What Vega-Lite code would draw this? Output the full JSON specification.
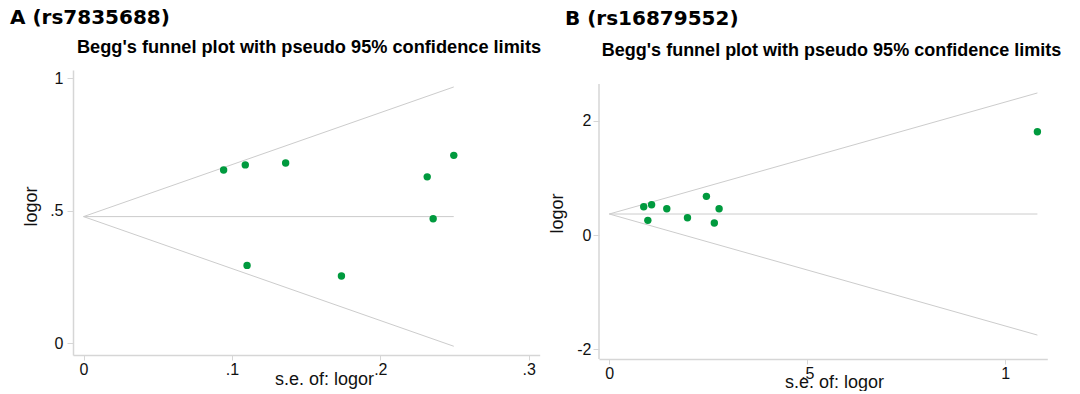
{
  "$schema": "https://vega.github.io/schema/vega-lite/v6.json",
  "padding": {"left": 10, "top": 8, "right": 0, "bottom": 0},
  "background": "white",
  "spacing": 7,
  "config": {
    "view": {"stroke": null},
    "font": "Liberation Sans",
    "axis": {
      "grid": false,
      "domainColor": "#d6d6d6",
      "domainWidth": 1.5,
      "tickColor": "#d6d6d6",
      "tickWidth": 1,
      "labelFont": "Liberation Sans",
      "labelFontSize": 16,
      "labelColor": "#111111",
      "titleFont": "Liberation Sans",
      "titleFontSize": 18,
      "titleFontWeight": "normal",
      "titleColor": "#111111",
      "labelFlush": false,
      "labelOverlap": false,
      "labelExpr": "datum.value > 0 && datum.value < 1 ? substring('' + datum.value, 1) : '' + datum.value"
    },
    "title": {"font": "DejaVu Sans", "fontWeight": "bold", "fontSize": 20, "color": "#000000", "anchor": "start", "frame": "bounds", "baseline": "alphabetic"}
  },
  "datasets": {
    "studiesA": [
      {"se": 0.0944, "logor": 0.654},
      {"se": 0.1090, "logor": 0.673},
      {"se": 0.1362, "logor": 0.680},
      {"se": 0.2316, "logor": 0.628},
      {"se": 0.2495, "logor": 0.709},
      {"se": 0.2356, "logor": 0.470},
      {"se": 0.1102, "logor": 0.294},
      {"se": 0.1738, "logor": 0.254}
    ],
    "funnelA": [
      {"limit": "upper", "se": 0, "logor": 0.478},
      {"limit": "upper", "se": 0.2495, "logor": 0.967},
      {"limit": "lower", "se": 0, "logor": 0.478},
      {"limit": "lower", "se": 0.2495, "logor": -0.011},
      {"limit": "pooled", "se": 0, "logor": 0.478},
      {"limit": "pooled", "se": 0.2495, "logor": 0.478}
    ],
    "studiesB": [
      {"se": 0.0869, "logor": 0.496},
      {"se": 0.1068, "logor": 0.531},
      {"se": 0.0973, "logor": 0.257},
      {"se": 0.1452, "logor": 0.461},
      {"se": 0.1974, "logor": 0.303},
      {"se": 0.2452, "logor": 0.677},
      {"se": 0.2652, "logor": 0.210},
      {"se": 0.2773, "logor": 0.461},
      {"se": 1.081, "logor": 1.809}
    ],
    "funnelB": [
      {"limit": "upper", "se": 0, "logor": 0.368},
      {"limit": "upper", "se": 1.081, "logor": 2.487},
      {"limit": "lower", "se": 0, "logor": 0.368},
      {"limit": "lower", "se": 1.081, "logor": -1.751},
      {"limit": "pooled", "se": 0, "logor": 0.368},
      {"limit": "pooled", "se": 1.081, "logor": 0.368}
    ],
    "axisLineB": [
      {"se": -0.026, "lo": -2.17, "hi": 2.644}
    ]
  },
  "hconcat": [
    {
      "title": {"text": "A (rs7835688)", "dx": -12, "offset": 9},
      "width": 466.7,
      "height": 285,
      "resolve": {"axis": {"x": "independent"}},
      "layer": [
        {
          "data": {"name": "funnelA"},
          "mark": {"type": "line", "color": "#cccccc", "strokeWidth": 1},
          "encoding": {
            "x": {
              "field": "se", "type": "quantitative",
              "axis": {"orient": "top", "title": "Begg's funnel plot with pseudo 95% confidence limits", "domain": false, "ticks": false, "labels": false, "titleFontWeight": "bold", "titleColor": "#000000", "titleFontSize": 18.2, "titleX": 235.5, "titleY": -18, "titleBaseline": "alphabetic"}
            },
            "y": {"field": "logor", "type": "quantitative"},
            "detail": {"field": "limit"}
          }
        },
        {
          "data": {"name": "studiesA"},
          "mark": {"type": "point", "filled": true, "opacity": 1, "size": 55, "color": "#009a3e"},
          "encoding": {
            "x": {
              "field": "se", "type": "quantitative",
              "scale": {"domain": [-0.0071, 0.3074], "nice": false, "zero": false},
              "axis": {"orient": "bottom", "title": "s.e. of: logor", "values": [0, 0.1, 0.2, 0.3], "tickSize": 5, "labelPadding": 1, "titleX": 251, "titleY": 29, "titleBaseline": "alphabetic"}
            },
            "y": {
              "field": "logor", "type": "quantitative",
              "scale": {"domain": [-0.044, 1.031], "nice": false, "zero": false},
              "axis": {"title": "logor", "values": [0, 0.5, 1], "tickSize": 6, "labelPadding": 4, "titleX": -42, "titleY": 136, "titleBaseline": "middle", "titleAngle": -90}
            }
          }
        }
      ]
    },
    {
      "title": {"text": "B (rs16879552)", "dx": 17, "offset": 12},
      "width": 448.3,
      "height": 289,
      "resolve": {"axis": {"x": "independent"}},
      "layer": [
        {
          "data": {"name": "funnelB"},
          "mark": {"type": "line", "color": "#cccccc", "strokeWidth": 1},
          "encoding": {
            "x": {
              "field": "se", "type": "quantitative",
              "axis": {"orient": "top", "title": "Begg's funnel plot with pseudo 95% confidence limits", "domain": false, "ticks": false, "labels": false, "titleFontWeight": "bold", "titleColor": "#000000", "titleFontSize": 18, "titleX": 232, "titleY": -15, "titleBaseline": "alphabetic"}
            },
            "y": {"field": "logor", "type": "quantitative"},
            "detail": {"field": "limit"}
          }
        },
        {
          "data": {"name": "axisLineB"},
          "mark": {"type": "rule", "color": "#d6d6d6", "strokeWidth": 1.5},
          "encoding": {
            "x": {"field": "se", "type": "quantitative", "axis": {"orient": "bottom", "domain": false, "ticks": false, "labels": false, "title": null}},
            "y": {"field": "lo", "type": "quantitative", "title": "logor"},
            "y2": {"field": "hi"}
          }
        },
        {
          "data": {"name": "studiesB"},
          "mark": {"type": "point", "filled": true, "opacity": 1, "size": 55, "color": "#009a3e"},
          "encoding": {
            "x": {
              "field": "se", "type": "quantitative",
              "scale": {"domain": [-0.026, 1.106], "nice": false, "zero": false},
              "axis": {"orient": "bottom", "title": "s.e. of: logor", "values": [0, 0.5, 1], "tickSize": 5, "labelPadding": 1, "titleX": 235, "titleY": 28, "titleBaseline": "alphabetic"}
            },
            "y": {
              "field": "logor", "type": "quantitative",
              "scale": {"domain": [-2.17, 2.889], "nice": false, "zero": false},
              "axis": {"title": "logor", "domain": false, "values": [-2, 0, 2], "tickSize": 6, "labelPadding": 2, "titleX": -42, "titleY": 143, "titleBaseline": "middle", "titleAngle": -90}
            }
          }
        }
      ]
    }
  ]
}
